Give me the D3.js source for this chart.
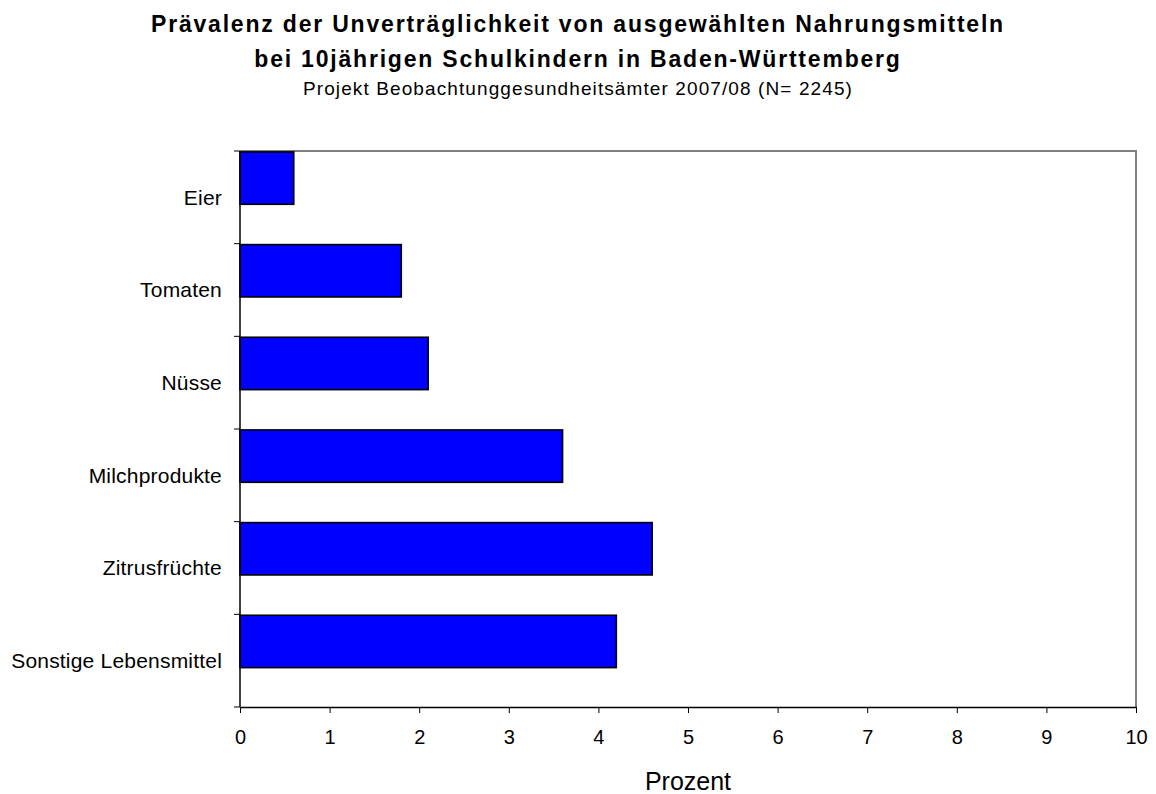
<!DOCTYPE html>
<meta charset="utf-8">
<script src="https://d3js.org/d3.v7.min.js"></script>
<style>
body { margin: 0; background: #fff; }
text { font-family: Arial, "Liberation Sans", sans-serif; fill: #000; }
</style>
<div id="chart"></div>
<script>
// data
var categories = ["Eier", "Tomaten", "Nüsse", "Milchprodukte", "Zitrusfrüchte", "Sonstige Lebensmittel"];
var values = [0.6, 1.8, 2.1, 3.6, 4.6, 4.2];
var xTicks = [0, 1, 2, 3, 4, 5, 6, 7, 8, 9, 10];
var titleLines = ["Prävalenz der Unverträglichkeit von ausgewählten Nahrungsmitteln",
                  "bei 10jährigen Schulkindern in Baden-Württemberg"];
var subtitle = "Projekt Beobachtunggesundheitsämter 2007/08 (N= 2245)";
var xLabel = "Prozent";

var W = 1156, H = 794;
var margin = {top: 151, right: 20, bottom: 87, left: 240},
    width = W - margin.left - margin.right,
    height = H - margin.top - margin.bottom;

var root = d3.select("#chart").append("svg")
    .attr("width", W)
    .attr("height", H);

// titles
root.append("text")
    .attr("x", 578).attr("y", 32)
    .attr("text-anchor", "middle")
    .style("font-size", "23px").style("font-weight", "bold").style("letter-spacing", "1.8px")
    .text(titleLines[0]);
root.append("text")
    .attr("x", 578).attr("y", 67)
    .attr("text-anchor", "middle")
    .style("font-size", "23px").style("font-weight", "bold").style("letter-spacing", "1.8px")
    .text(titleLines[1]);
root.append("text")
    .attr("x", 578).attr("y", 95)
    .attr("text-anchor", "middle")
    .style("font-size", "19px").style("letter-spacing", "1.1px")
    .text(subtitle);

var svg = root.append("g")
    .attr("transform", "translate(" + margin.left + "," + margin.top + ")");

var x = d3.scaleLinear()
    .domain([0, 10])
    .range([0, width]);

var y = d3.scaleBand()
    .domain(categories)
    .range([0, height])
    .padding(0);

// plot frame (top & right, grey)
svg.append("path")
    .attr("d", "M0,0H" + width + "V" + height)
    .attr("fill", "none")
    .attr("stroke", "#808080")
    .attr("stroke-width", 2);

// bars
svg.append("g")
  .selectAll("rect")
  .data(values)
  .enter()
  .append("rect")
    .attr("x", x(0))
    .attr("y", function(d, i) { return y(categories[i]) + y.bandwidth() * 0.01; })
    .attr("width", function(d) { return x(d) - x(0); })
    .attr("height", y.bandwidth() * 0.565)
    .attr("fill", "#0000ff")
    .attr("stroke", "#000")
    .attr("stroke-width", 1.6);

// x axis
var xAxis = svg.append("g")
    .attr("transform", "translate(0," + height + ")")
    .call(d3.axisBottom(x).tickValues(xTicks).tickSize(6).tickSizeOuter(0).tickPadding(17));
xAxis.select(".domain").attr("stroke-width", 1.5);
xAxis.selectAll("text").style("font-size", "20px").style("font-family", "Arial, 'Liberation Sans', sans-serif");

// y axis: ticks at band boundaries
var yAxis = svg.append("g");
yAxis.append("line")
    .attr("x1", 0).attr("x2", 0)
    .attr("y1", 0).attr("y2", height)
    .attr("stroke", "#000").attr("stroke-width", 1.5);
var bounds = categories.map(function(c) { return y(c); }).concat([height]);
yAxis.selectAll(".tk")
  .data(bounds)
  .enter()
  .append("line")
    .attr("x1", -6).attr("x2", 0)
    .attr("y1", function(d) { return d; })
    .attr("y2", function(d) { return d; })
    .attr("stroke", "#000");
yAxis.selectAll(".lbl")
  .data(categories)
  .enter()
  .append("text")
    .attr("x", -18)
    .attr("y", function(d) { return y(d) + y.bandwidth() / 2; })
    .attr("dy", "0.35em")
    .attr("text-anchor", "end")
    .style("font-size", "21px").style("letter-spacing", "0.2px")
    .text(function(d) { return d; });

// x label
root.append("text")
    .attr("x", margin.left + width / 2)
    .attr("y", 790)
    .attr("text-anchor", "middle")
    .style("font-size", "25px")
    .text(xLabel);
</script>
